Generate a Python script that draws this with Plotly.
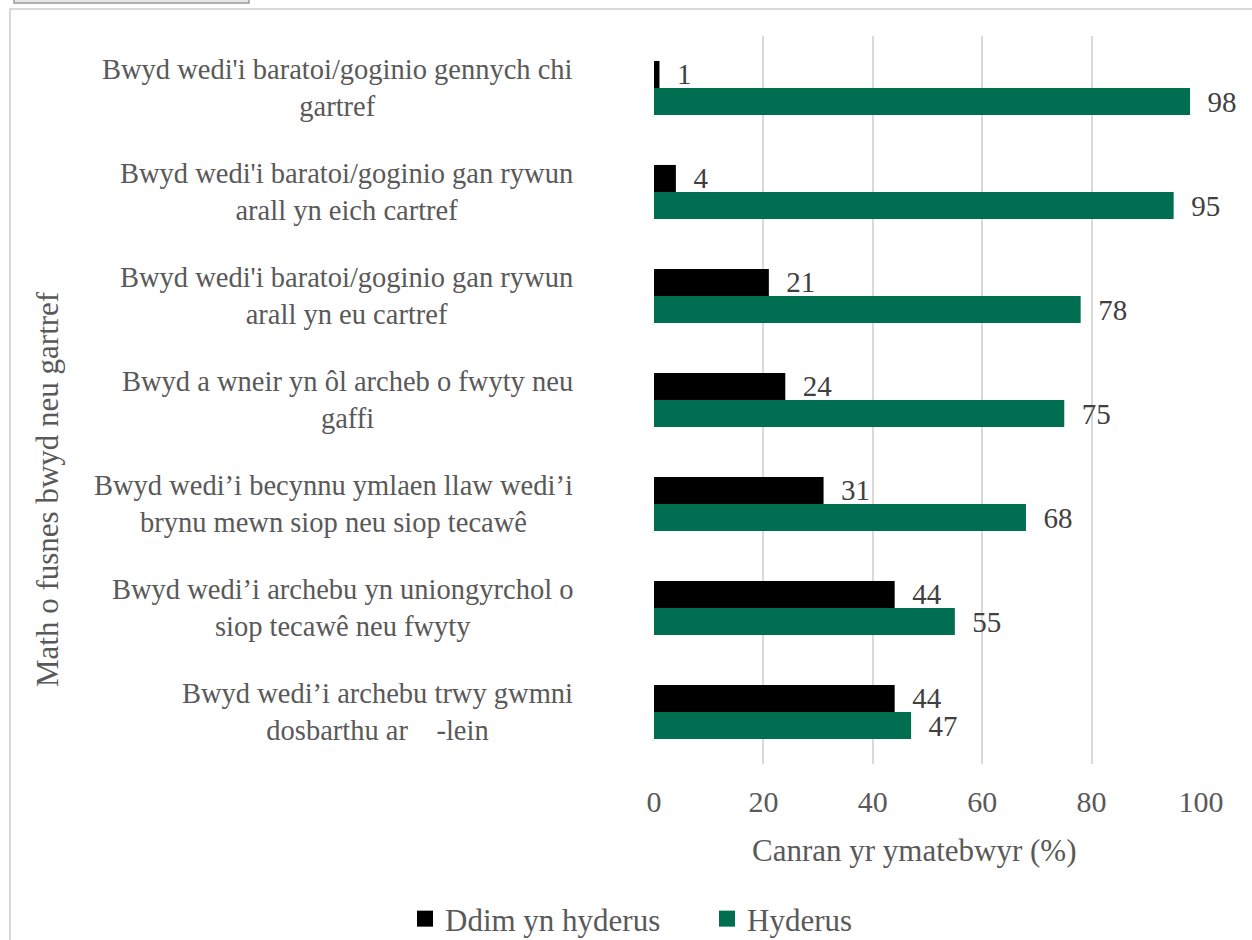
import plotly.graph_objects as go

categories = [
    "Bwyd wedi'i baratoi/goginio gennych chi<br>gartref",
    "Bwyd wedi'i baratoi/goginio gan rywun<br>arall yn eich cartref",
    "Bwyd wedi'i baratoi/goginio gan rywun<br>arall yn eu cartref",
    "Bwyd a wneir yn ôl archeb o fwyty neu<br>gaffi",
    "Bwyd wedi’i becynnu ymlaen llaw wedi’i<br>brynu mewn siop neu siop tecawê",
    "Bwyd wedi’i archebu yn uniongyrchol o<br>siop tecawê neu fwyty",
    "Bwyd wedi’i archebu trwy gwmni<br>dosbarthu ar\u00a0\u00a0\u00a0\u00a0-lein",
]
ddim_yn_hyderus = [1, 4, 21, 24, 31, 44, 44]
hyderus = [98, 95, 78, 75, 68, 55, 47]
x_ticks = [0, 20, 40, 60, 80, 100]
series_names = ["Ddim yn hyderus", "Hyderus"]
x_title = "Canran yr ymatebwyr (%)"
y_title = "Math o fusnes bwyd neu gartref"

W, H = 1252, 940
L, R, T, B = 654, 1201, 36, 764


def px_x(p):
    return (p - L) / (R - L)


def px_y(p):
    return (B - p) / (B - T)


FONT = "Liberation Serif"
GRAY = "#595959"
GREEN = "#006E51"
colors = ["#000000", GREEN]

cat_ids = list(range(len(categories)))

fig = go.Figure()
for name, vals, col in zip(series_names, [ddim_yn_hyderus, hyderus], colors):
    fig.add_trace(go.Bar(
        y=cat_ids, x=vals, name=name, orientation="h",
        marker=dict(color=col, line=dict(width=0)),
        text=[f"\u00a0\u00a0{v}" for v in vals],
        textposition="outside", constraintext="none", cliponaxis=False,
        textfont=dict(family=FONT, size=29, color="#404040"),
        hoverinfo="x+name", showlegend=False,
    ))

# legend entries with larger square swatches
for name, col in zip(series_names, colors):
    fig.add_trace(go.Scatter(
        x=[None], y=[None], mode="markers", name=name,
        marker=dict(symbol="square", size=17, color=col),
        showlegend=True,
    ))

for i, c in enumerate(categories):
    fig.add_annotation(
        x=px_x(575), xref="paper", y=i, yref="y",
        xanchor="right", yanchor="middle", align="center",
        text=c, showarrow=False,
        font=dict(family=FONT, size=28.5, color=GRAY),
    )

fig.add_annotation(
    x=px_x(47), xref="paper", y=px_y(489), yref="paper",
    text=y_title, textangle=-90, showarrow=False,
    xanchor="center", yanchor="middle",
    font=dict(family=FONT, size=31, color=GRAY),
)

fig.add_annotation(
    x=px_x(914), xref="paper", y=px_y(850), yref="paper",
    text=x_title, showarrow=False,
    xanchor="center", yanchor="middle",
    font=dict(family=FONT, size=31, color=GRAY),
)

# outer chart border and top-left tab
fig.add_shape(type="rect", xref="paper", yref="paper",
              x0=px_x(10), x1=px_x(1320), y0=px_y(9), y1=px_y(1020),
              line=dict(color="#d9d9d9", width=2), fillcolor="rgba(0,0,0,0)", layer="below")
fig.add_shape(type="rect", xref="paper", yref="paper",
              x0=px_x(14), x1=px_x(249), y0=px_y(-5), y1=px_y(3),
              line=dict(color="#9a9a9a", width=1.5), fillcolor="#e6e6e6")

fig.update_layout(
    width=W, height=H,
    margin=dict(l=L, r=W - R, t=T, b=H - B, pad=0, autoexpand=False),
    paper_bgcolor="white", plot_bgcolor="white",
    barmode="group", bargap=0.48, bargroupgap=0,
    font=dict(family=FONT, color=GRAY),
    showlegend=True,
    legend=dict(orientation="h", x=px_x(405), y=px_y(919),
                xanchor="left", yanchor="middle",
                font=dict(family=FONT, size=31, color=GRAY),
                traceorder="normal", itemwidth=30,
                entrywidth=257, entrywidthmode="pixels",
                bgcolor="rgba(0,0,0,0)"),
    xaxis=dict(range=[0, 100], tickvals=x_ticks, showgrid=True,
               gridcolor="#d9d9d9", gridwidth=1.5, zeroline=False,
               showline=False, ticks="", ticklabelstandoff=17,
               tickfont=dict(family=FONT, size=30, color=GRAY)),
    yaxis=dict(showticklabels=False, showgrid=False,
               zeroline=False, showline=False, ticks="",
               autorange=False, range=[len(categories) - 0.5, -0.5]),
)

fig.write_html("out.html", post_script="document.body.style.margin='0';",
               config={"displayModeBar": False})
